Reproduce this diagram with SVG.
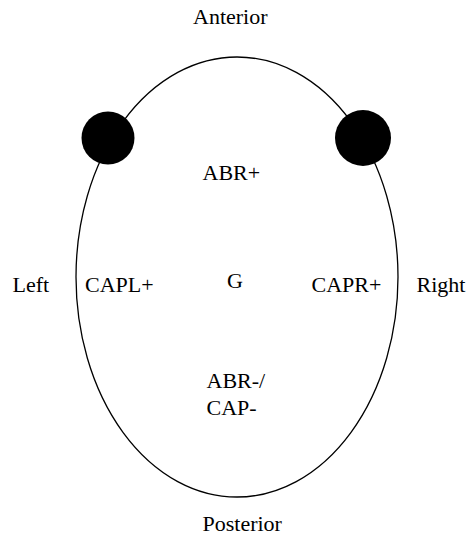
<svg xmlns="http://www.w3.org/2000/svg" width="469" height="538" viewBox="0 0 469 538">
<style>
text{font-family:"Liberation Serif","Times New Roman",serif;font-size:22px;fill:#000}
.outline{fill:none;stroke:#000;stroke-width:1.3}
.dot{fill:#000}
</style>
<rect width="469" height="538" fill="#fff"/>
<g id="head">
<ellipse class="outline" cx="237" cy="277" rx="161" ry="220"/>
</g>
<g id="left-dot"><circle class="dot" cx="108" cy="138" r="26.5"/></g>
<g id="right-dot"><circle class="dot" cx="363" cy="138" r="28"/></g>
<g id="labels">
<text x="193" y="23.5">Anterior</text>
<text x="202.5" y="530.5">Posterior</text>
<text x="12.5" y="291.5">Left</text>
<text x="416.5" y="291.5">Right</text>
<text x="202.5" y="179.5">ABR+</text>
<text x="85" y="291.5">CAPL+</text>
<text x="227" y="287.5">G</text>
<text x="311.5" y="291.5">CAPR+</text>
<text x="206.5" y="388">ABR-/</text>
<text x="206.5" y="414.5">CAP-</text>
</g>
</svg>
